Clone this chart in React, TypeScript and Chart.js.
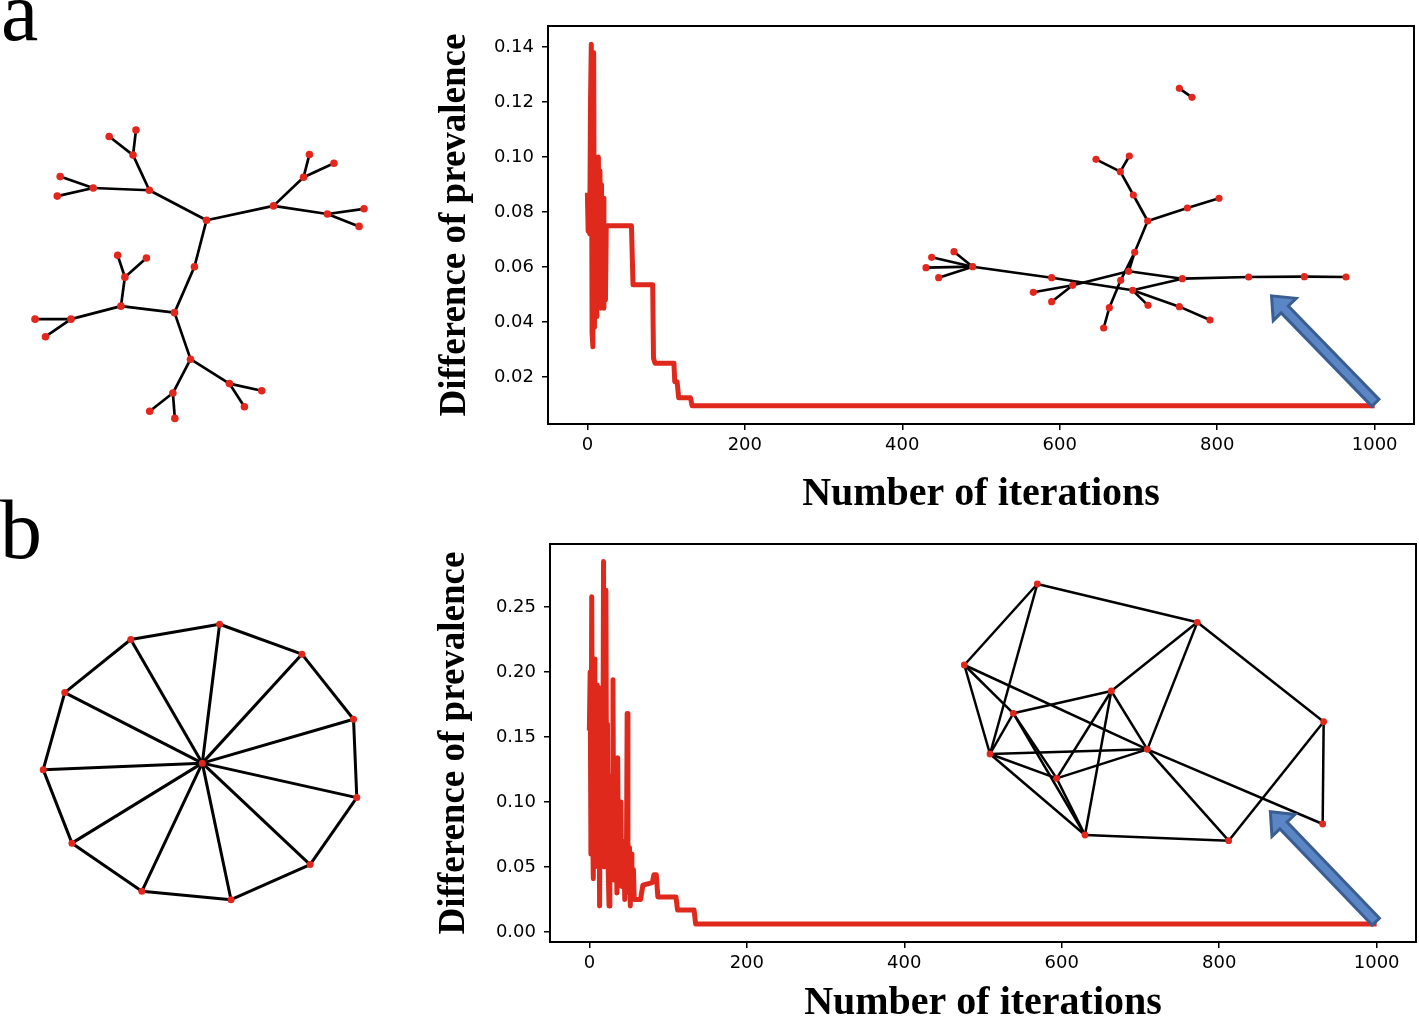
import React, { useEffect, useRef } from 'react';
import { Chart, registerables } from 'chart.js';

Chart.register(...registerables);

const RED = '#e0291d';
const NODE_RED = '#e3271c';
const ARROW_FILL = '#5a86c5';
const ARROW_EDGE = '#3b5e92';

// ---------- Panel a : convergence curve ----------
const iterA = [0, 1, 2, 3, 4, 5, 6, 7, 8, 9, 10, 11, 12, 13, 14, 15, 16, 17, 18, 19, 20, 21, 22, 23, 24, 56, 58, 83, 84, 86, 110, 111, 114, 116, 131, 133, 1000];
const prevA = [0.087, 0.073, 0.085, 0.072, 0.12, 0.141, 0.036, 0.031, 0.138, 0.038, 0.1, 0.042, 0.098, 0.05, 0.1, 0.06, 0.095, 0.045, 0.09, 0.05, 0.085, 0.045, 0.075, 0.048, 0.075, 0.075, 0.0535, 0.0535, 0.0268, 0.025, 0.025, 0.0183, 0.0183, 0.0124, 0.0124, 0.0095, 0.0095];
const yTicksA = [0.02, 0.04, 0.06, 0.08, 0.1, 0.12, 0.14];

// ---------- Panel b : convergence curve ----------
const iterB = [0, 1, 2, 3, 4, 5, 6, 7, 8, 9, 10, 11, 12, 13, 14, 15, 16, 17, 18, 19, 20, 21, 22, 23, 24, 25, 26, 27, 28, 29, 30, 31, 32, 33, 34, 35, 36, 37, 38, 39, 40, 41, 42, 43, 44, 45, 46, 47, 48, 49, 50, 51, 52, 53, 54, 55, 56, 57, 65, 68, 80, 82, 85, 87, 110, 112, 133, 135, 1000];
const prevB = [0.155, 0.2, 0.06, 0.258, 0.09, 0.041, 0.21, 0.05, 0.17, 0.06, 0.19, 0.07, 0.188, 0.02, 0.15, 0.06, 0.17, 0.08, 0.285, 0.05, 0.2, 0.263, 0.06, 0.16, 0.045, 0.02, 0.12, 0.05, 0.1, 0.06, 0.194, 0.04, 0.11, 0.05, 0.09, 0.03, 0.134, 0.045, 0.08, 0.04, 0.1, 0.035, 0.07, 0.05, 0.06, 0.025, 0.07, 0.04, 0.168, 0.05, 0.03, 0.065, 0.02, 0.06, 0.048, 0.03, 0.048, 0.025, 0.025, 0.036, 0.038, 0.044, 0.044, 0.027, 0.027, 0.0169, 0.0169, 0.0062, 0.0062];
const yTicksB = [0.0, 0.05, 0.1, 0.15, 0.2, 0.25];

const xTicks = [0, 200, 400, 600, 800, 1000];

// arrows (data units of each panel): [iteration, prevalence]
const arrowTailA = [1001, 0.0106];
const arrowTipA = [869, 0.0495];
const arrowTailB = [999, 0.0079];
const arrowTipB = [865, 0.0925];

// ---------- Network layouts (layout units) ----------
// tree network (panel a, left)
const treeX = [620, 445, 395, 322, 404, 273, 172, 163, 825, 917, 935, 1010, 990, 1102, 1087, 583, 522, 358, 370, 348, 436, 205, 95, 127, 571, 690, 789, 736, 517, 446, 523];
const treeY = [357, 265, 157, 100, 80, 258, 223, 283, 313, 225, 155, 182, 338, 322, 376, 500, 641, 621, 532, 465, 473, 661, 661, 715, 784, 859, 881, 930, 888, 944, 966];
const treeEdges = [[0, 1], [1, 2], [2, 3], [2, 4], [1, 5], [5, 6], [5, 7], [0, 8], [8, 9], [9, 10], [9, 11], [8, 12], [12, 13], [12, 14], [0, 15], [15, 16], [16, 17], [17, 18], [18, 19], [18, 20], [17, 21], [21, 22], [21, 23], [16, 24], [24, 25], [25, 26], [25, 27], [24, 28], [28, 29], [28, 30]];

// wheel network (panel b, left)
const wheelX = [607, 660, 912, 1070, 1080, 937, 695, 422, 208, 120, 186, 388];
const wheelY = [520, 93, 185, 385, 626, 832, 940, 914, 766, 540, 303, 140];
const wheelEdges = [[0, 1], [0, 2], [0, 3], [0, 4], [0, 5], [0, 6], [0, 7], [0, 8], [0, 9], [0, 10], [0, 11], [1, 2], [2, 3], [3, 4], [4, 5], [5, 6], [6, 7], [7, 8], [8, 9], [9, 10], [10, 11], [11, 1]];

// inset network panel a
const insetAX = [838, 876, 588, 688, 661, 700, 743, 862, 957, 704, 686, 662, 518, 455, 400, 455, 218, 95, 162, 78, 116, 847, 1046, 1213, 1338, 698, 744, 838, 930, 628, 611];
const insetAY = [55, 82, 268, 258, 305, 375, 453, 414, 385, 547, 604, 631, 646, 623, 667, 695, 590, 562, 545, 593, 623, 626, 621, 620, 621, 661, 706, 710, 750, 713, 774];
const insetAEdges = [[0, 1], [4, 2], [4, 3], [4, 5], [5, 6], [6, 7], [7, 8], [6, 9], [9, 10], [9, 11], [11, 29], [29, 30], [10, 21], [10, 12], [12, 14], [12, 15], [16, 13], [13, 25], [16, 17], [16, 18], [16, 19], [16, 20], [21, 22], [22, 23], [23, 24], [25, 21], [25, 26], [25, 27], [27, 28]];

// inset network panel b
const insetBX = [292, 772, 73, 514, 220, 1151, 622, 150, 350, 1148, 435, 866];
const insetBY = [72, 187, 315, 393, 460, 485, 568, 582, 655, 792, 825, 842];
const insetBEdges = [[0, 1], [0, 2], [0, 7], [2, 7], [2, 4], [2, 6], [4, 3], [4, 7], [4, 8], [4, 10], [7, 6], [7, 8], [7, 10], [8, 3], [8, 6], [8, 10], [3, 10], [3, 6], [3, 1], [1, 6], [1, 5], [5, 9], [5, 11], [6, 11], [6, 9], [10, 11]];

function networkDatasets(nx: number[], ny: number[], edges: number[][], xAxisID: string, yAxisID: string, nodeR: number, edgeW: number) {
  const ds: any[] = edges.map(([a, b]) => ({
    type: 'line',
    data: [{ x: nx[a], y: ny[a] }, { x: nx[b], y: ny[b] }],
    borderColor: '#000',
    borderWidth: edgeW,
    pointRadius: 0,
    tension: 0,
    fill: false,
    xAxisID,
    yAxisID,
    order: 3,
  }));
  ds.push({
    type: 'line',
    data: nx.map((x, i) => ({ x, y: ny[i] })),
    showLine: false,
    pointRadius: nodeR,
    pointBackgroundColor: NODE_RED,
    pointBorderWidth: 0,
    xAxisID,
    yAxisID,
    order: 2,
  });
  return ds;
}

const framePlugin = {
  id: 'frame',
  afterDraw(chart: any) {
    const { ctx, chartArea } = chart;
    ctx.save();
    ctx.strokeStyle = '#000';
    ctx.lineWidth = 2;
    ctx.strokeRect(chartArea.left, chartArea.top, chartArea.right - chartArea.left, chartArea.bottom - chartArea.top);
    ctx.restore();
  },
};

function makeArrowPlugin(tail: number[], tip: number[]) {
  return {
    id: 'arrow',
    afterDatasetsDraw(chart: any) {
      const { ctx, scales } = chart;
      const tx = scales.x.getPixelForValue(tail[0]);
      const ty = scales.y.getPixelForValue(tail[1]);
      const hx = scales.x.getPixelForValue(tip[0]);
      const hy = scales.y.getPixelForValue(tip[1]);
      const len = Math.hypot(hx - tx, hy - ty);
      const ux = (hx - tx) / len;
      const uy = (hy - ty) / len;
      const nx = -uy;
      const ny = ux;
      const hl = 19;
      const hw = 16;
      const sw = 5;
      const bx = hx - ux * hl;
      const by = hy - uy * hl;
      ctx.save();
      ctx.beginPath();
      ctx.moveTo(tx + nx * sw, ty + ny * sw);
      ctx.lineTo(bx + nx * sw, by + ny * sw);
      ctx.lineTo(bx + nx * hw, by + ny * hw);
      ctx.lineTo(hx, hy);
      ctx.lineTo(bx - nx * hw, by - ny * hw);
      ctx.lineTo(bx - nx * sw, by - ny * sw);
      ctx.lineTo(tx - nx * sw, ty - ny * sw);
      ctx.closePath();
      ctx.fillStyle = ARROW_FILL;
      ctx.fill();
      ctx.lineJoin = 'miter';
      ctx.lineWidth = 3;
      ctx.strokeStyle = ARROW_EDGE;
      ctx.stroke();
      ctx.restore();
    },
  };
}

const tickFont = { family: 'DejaVu Sans', size: 18 };
const xTitleFont = { family: 'Liberation Serif', size: 40, weight: 'bold' as const };
const yTitleFont = { family: 'Liberation Serif', size: 37, weight: 'bold' as const };

function lineConfig(opts: any) {
  const {
    iters, prevs, yTicks, yMin, yMax, yAxisW, xAxisH, padTop, padRight, xTitlePad, yTitlePad,
    inX, inY, inEdges, nxMin, nxMax, nyMin, nyMax, nodeR, edgeW, tail, tip,
  } = opts;
  const datasets: any[] = [
    {
      type: 'line',
      data: iters.map((x: number, i: number) => ({ x, y: prevs[i] })),
      borderColor: RED,
      borderWidth: 5,
      borderJoinStyle: 'round',
      pointRadius: 0,
      tension: 0,
      fill: false,
      xAxisID: 'x',
      yAxisID: 'y',
      order: 1,
    },
    ...networkDatasets(inX, inY, inEdges, 'nx', 'ny', nodeR, edgeW),
  ];
  return {
    type: 'line',
    data: { datasets },
    options: {
      responsive: false,
      animation: false,
      events: [],
      layout: { padding: { left: 0, top: padTop, right: padRight, bottom: 0 } },
      plugins: { legend: { display: false }, tooltip: { enabled: false } },
      scales: {
        x: {
          type: 'linear',
          position: 'bottom',
          min: -50,
          max: 1050,
          afterBuildTicks: (s: any) => { s.ticks = xTicks.map((v) => ({ value: v })); },
          afterFit: (s: any) => { s.height = xAxisH; },
          grid: { display: true, drawOnChartArea: false, drawTicks: true, tickLength: 6, color: '#000', lineWidth: 1.5 },
          border: { display: false },
          ticks: { color: '#000', font: tickFont, padding: 5, maxRotation: 0, autoSkip: false, callback: (v: any) => String(v) },
          title: { display: true, text: 'Number of iterations', color: '#000', font: xTitleFont, padding: { top: 0, bottom: xTitlePad } },
        },
        y: {
          type: 'linear',
          position: 'left',
          min: yMin,
          max: yMax,
          afterBuildTicks: (s: any) => { s.ticks = yTicks.map((v: number) => ({ value: v })); },
          afterFit: (s: any) => { s.width = yAxisW; },
          grid: { display: true, drawOnChartArea: false, drawTicks: true, tickLength: 6, color: '#000', lineWidth: 1.5 },
          border: { display: false },
          ticks: { color: '#000', font: tickFont, padding: 8, autoSkip: false, callback: (v: any) => Number(v).toFixed(2) },
          title: { display: true, text: 'Difference of prevalence', color: '#000', font: yTitleFont, padding: { top: yTitlePad, bottom: 0 } },
        },
        nx: { type: 'linear', axis: 'x', display: false, min: nxMin, max: nxMax },
        ny: { type: 'linear', axis: 'y', display: false, min: nyMin, max: nyMax, reverse: true },
      },
    },
    plugins: [framePlugin, makeArrowPlugin(tail, tip)],
  };
}

function networkConfig(nx: number[], ny: number[], edges: number[][], xMax: number, yMax: number, nodeR: number, edgeW: number) {
  return {
    type: 'line',
    data: { datasets: networkDatasets(nx, ny, edges, 'x', 'y', nodeR, edgeW) },
    options: {
      responsive: false,
      animation: false,
      events: [],
      layout: { padding: 0 },
      plugins: { legend: { display: false }, tooltip: { enabled: false } },
      scales: {
        x: { type: 'linear', display: false, min: 0, max: xMax },
        y: { type: 'linear', display: false, min: 0, max: yMax, reverse: true },
      },
    },
  };
}

function ChartCanvas({ left, top, width, height, config }: { left: number; top: number; width: number; height: number; config: () => any }) {
  const ref = useRef<HTMLCanvasElement>(null);
  useEffect(() => {
    if (!ref.current) return;
    const chart = new Chart(ref.current, config());
    return () => chart.destroy();
  }, []);
  return (
    <canvas
      ref={ref}
      width={width}
      height={height}
      style={{ position: 'absolute', left, top, width, height }}
    />
  );
}

const letterStyle: React.CSSProperties = {
  position: 'absolute',
  fontFamily: '"Liberation Serif", serif',
  fontSize: 84,
  lineHeight: '84px',
  color: '#000',
};

export default function App() {
  return (
    <div style={{ position: 'absolute', left: 0, top: 0, width: 1419, height: 1020, overflow: 'hidden', background: '#fff' }}>
      <div style={{ ...letterStyle, left: 1, top: -30 }}>a</div>
      <div style={{ ...letterStyle, left: 0, top: 488 }}>b</div>

      <ChartCanvas left={0} top={100} width={400} height={340}
        config={() => networkConfig(treeX, treeY, treeEdges, 1200, 1020, 3.8, 2.7)} />
      <ChartCanvas left={0} top={590} width={400} height={330}
        config={() => networkConfig(wheelX, wheelY, wheelEdges, 1200, 990, 3.5, 3)} />

      <ChartCanvas left={420} top={0} width={1000} height={520}
        config={() => lineConfig({
          iters: iterA, prevs: prevA, yTicks: yTicksA, yMin: 0.0029, yMax: 0.1476,
          yAxisW: 128, xAxisH: 96, padTop: 26, padRight: 6, xTitlePad: 1, yTitlePad: 13,
          inX: insetAX, inY: insetAY, inEdges: insetAEdges,
          nxMin: -1056, nxMax: 1542, nyMin: -132, nyMax: 1062, nodeR: 3.6, edgeW: 2.6,
          tail: arrowTailA, tip: arrowTipA,
        })} />

      <ChartCanvas left={420} top={520} width={1000} height={520}
        config={() => lineConfig({
          iters: iterB, prevs: prevB, yTicks: yTicksB, yMin: -0.0077, yMax: 0.2985,
          yAxisW: 130, xAxisH: 98, padTop: 24, padRight: 4, xTitlePad: 12, yTitlePad: 12,
          inX: insetBX, inY: insetBY, inEdges: insetBEdges,
          nxMin: -1170, nxMax: 1428, nyMin: -48, nyMax: 1146, nodeR: 3.4, edgeW: 2.5,
          tail: arrowTailB, tip: arrowTipB,
        })} />
    </div>
  );
}
